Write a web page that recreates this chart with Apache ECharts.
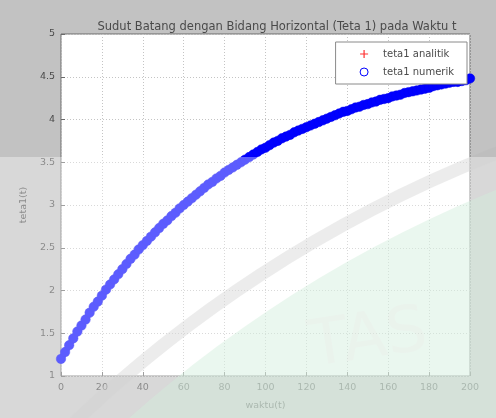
<!DOCTYPE html>
<html><head><meta charset="utf-8">
<script src="https://cdn.jsdelivr.net/npm/echarts@6/dist/echarts.min.js"></script>
<style>html,body{margin:0;padding:0;background:#c2c2c2;}#c{width:496px;height:418px;}</style>
</head><body><div id="c"></div>
<script>
const titleText = 'Sudut Batang dengan Bidang Horizontal (Teta 1) pada Waktu t';
const xLabel = 'waktu(t)';
const yLabel = 'teta1(t)';
const seriesNames = ['teta1 analitik', 'teta1 numerik'];
const waktu = [0,2,4,6,8,10,12,14,16,18,20,22,24,26,28,30,32,34,36,38,40,42,44,46,48,50,52,54,56,58,60,62,64,66,68,70,72,74,76,78,80,82,84,86,88,90,92,94,96,98,100,102,104,106,108,110,112,114,116,118,120,122,124,126,128,130,132,134,136,138,140,142,144,146,148,150,152,154,156,158,160,162,164,166,168,170,172,174,176,178,180,182,184,186,188,190,192,194,196,198,200];
const tetaAnalitik = [1.20,1.28,1.36,1.44,1.52,1.59,1.66,1.74,1.81,1.87,1.94,2.01,2.07,2.13,2.19,2.25,2.31,2.37,2.42,2.48,2.53,2.58,2.63,2.68,2.73,2.78,2.82,2.87,2.91,2.96,3.00,3.04,3.08,3.12,3.16,3.20,3.24,3.27,3.31,3.34,3.38,3.41,3.44,3.47,3.50,3.53,3.56,3.59,3.62,3.65,3.67,3.70,3.73,3.75,3.78,3.80,3.82,3.85,3.87,3.89,3.91,3.93,3.95,3.97,3.99,4.01,4.03,4.05,4.07,4.09,4.10,4.12,4.14,4.15,4.17,4.18,4.20,4.21,4.23,4.24,4.25,4.27,4.28,4.29,4.31,4.32,4.33,4.34,4.35,4.36,4.37,4.39,4.40,4.41,4.42,4.43,4.44,4.44,4.45,4.46,4.48];
const tetaNumerik = [1.20,1.28,1.36,1.44,1.52,1.59,1.66,1.74,1.81,1.87,1.94,2.01,2.07,2.13,2.19,2.25,2.31,2.37,2.42,2.48,2.53,2.58,2.63,2.68,2.73,2.78,2.82,2.87,2.91,2.96,3.00,3.04,3.08,3.12,3.16,3.20,3.24,3.27,3.31,3.34,3.38,3.41,3.44,3.47,3.50,3.53,3.56,3.59,3.62,3.65,3.67,3.70,3.73,3.75,3.78,3.80,3.82,3.85,3.87,3.89,3.91,3.93,3.95,3.97,3.99,4.01,4.03,4.05,4.07,4.09,4.10,4.12,4.14,4.15,4.17,4.18,4.20,4.21,4.23,4.24,4.25,4.27,4.28,4.29,4.31,4.32,4.33,4.34,4.35,4.36,4.37,4.39,4.40,4.41,4.42,4.43,4.44,4.44,4.45,4.46,4.48];

const plusPath = 'path://M3.4,0h1.2v3.4h3.4v1.2h-3.4v3.4h-1.2v-3.4h-3.4v-1.2h3.4z';
const chart = echarts.init(document.getElementById('c'), null, {renderer:'canvas'});
const txt = '#4a4a4a';
const fam = 'DejaVu Sans';
chart.setOption({
  backgroundColor: '#c2c2c2',
  animation: false,
  title: {text: titleText, left: 272, top: 16, textAlign: 'center',
    textStyle: {fontFamily: fam, fontSize: 11.5, fontWeight: 'normal', color: txt}},
  grid: {left: 61, right: 26, top: 34, bottom: 42, show: true, backgroundColor: '#ffffff', borderColor: '#6a6a6a', borderWidth: 1},
  legend: {
    orient: 'vertical', right: 29, top: 42,
    backgroundColor: '#ffffff', borderColor: '#8a8a8a', borderWidth: 1, borderRadius: 0,
    padding: [7, 13, 7, 24], itemGap: 8, itemWidth: 8, itemHeight: 8,
    textStyle: {fontFamily: fam, fontSize: 10, color: txt, padding: [0,0,0,10]},
    data: [
      {name: seriesNames[0], icon: plusPath, itemStyle: {color: '#ff3030'}},
      {name: seriesNames[1], icon: 'circle', itemStyle: {color: 'rgba(0,0,0,0)', borderColor: '#0000ff', borderWidth: 1}}
    ]
  },
  xAxis: {type: 'value', min: 0, max: 200, interval: 20,
    name: xLabel, nameLocation: 'middle', nameGap: 25,
    nameTextStyle: {fontFamily: fam, fontSize: 9.5, color: txt},
    axisLine: {show: false}, axisTick: {inside: true, length: 4, lineStyle: {color: '#6a6a6a'}},
    axisLabel: {fontFamily: fam, fontSize: 9.5, color: txt, margin: 7},
    splitLine: {show: true, lineStyle: {color: '#c4c4c4', type: [1, 2], width: 1}}},
  yAxis: {type: 'value', min: 1, max: 5, interval: 0.5,
    name: yLabel, nameLocation: 'middle', nameGap: 30, nameRotate: 90,
    nameTextStyle: {fontFamily: fam, fontSize: 9.5, color: txt},
    axisLine: {show: false}, axisTick: {inside: true, length: 4, lineStyle: {color: '#6a6a6a'}},
    axisLabel: {fontFamily: fam, fontSize: 9.5, color: txt, margin: 6},
    splitLine: {show: true, lineStyle: {color: '#c4c4c4', type: [1, 2], width: 1}}},
  series: [
    {name: seriesNames[0], type: 'scatter', symbol: plusPath, symbolSize: 8,
      itemStyle: {color: '#ff0000', opacity: 1},
      data: waktu.map((t, i) => [t, tetaAnalitik[i]])},
    {name: seriesNames[1], type: 'line', symbol: 'circle', symbolSize: 9.5, showSymbol: true,
      lineStyle: {color: '#0000ff', width: 6},
      itemStyle: {color: '#0000ff', borderColor: '#0000ee', borderWidth: 0.5, opacity: 1},
      data: waktu.map((t, i) => [t, tetaNumerik[i]])}
  ],
  graphic: [
    {type: 'circle', silent: true, z: 90, shape: {cx: 969, cy: 1360, r: 1262},
      style: {fill: 'rgba(185,228,200,0.45)'}},
    {type: 'circle', silent: true, z: 91, shape: {cx: 969, cy: 1360, r: 1296},
      style: {fill: 'none', stroke: 'rgba(185,185,185,0.42)', lineWidth: 13}},
    {type: 'text', silent: true, z: 92, x: 305, y: 318, rotation: 0.15,
      style: {text: 'TAS', font: '64px DejaVu Sans', fill: 'rgba(225,205,210,0.18)'}},
    {type: 'rect', silent: true, z: 100, shape: {x: 0, y: 157, width: 496, height: 261},
      style: {fill: 'rgba(255,255,255,0.36)'}}
  ]
});
</script></body></html>
